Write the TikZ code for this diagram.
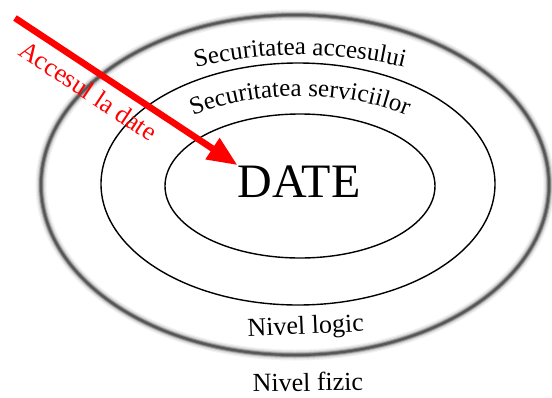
\documentclass[tikz,border=0pt]{standalone}
\usepackage{fontspec}
\setmainfont{Liberation Serif}
\usetikzlibrary{arrows.meta}
\usetikzlibrary{calc}
\usetikzlibrary{decorations.text}

\begin{document}
\begin{tikzpicture}[
        x=1pt, y=1pt,
        strat/.style={line width=1.4pt},
        eticheta/.style={font=\fontsize{26}{26}\selectfont, inner sep=0pt},
        acces/.style={red, line width=6.5pt, -{Triangle[length=30pt, width=24pt]}}
    ]
        % --- Cadrul desenului ---
        \fill[white] (0,0) rectangle (552,-397);
        \useasboundingbox (0,0) rectangle (552,-397);

        % --- Nivelul fizic (elipsa exterioara, margine estompata) ---
        \coordinate (C1) at (295,-185);
        \foreach \w/\t in {11/5, 8.5/12, 6/26, 4/48, 2.2/66} {
            \draw[black!\t, line width=\w pt] (C1) ellipse (254pt and 170pt);
        }

        % --- Nivelul logic si zona datelor ---
        \coordinate (C2) at (298,-184);
        \coordinate (C3) at (300,-186);
        \draw[strat] (C2) ellipse (197pt and 121pt);
        \draw[strat] (C3) ellipse (135pt and 72pt);

        % --- Textele curbate ---
        % Securitatea accesului (intre elipsa exterioara si cea mijlocie)
        \path[decorate, decoration={text along path, text align=center,
            text={|\fontsize{25}{25}\selectfont|Securitatea accesului}}]
            (C3) ++(160:245pt and 131pt)
            arc[start angle=160, end angle=20, x radius=245pt, y radius=131pt];
        % Securitatea serviciilor (intre elipsa mijlocie si cea interioara)
        \path[decorate, decoration={text along path, text align=center,
            text={|\fontsize{25}{25}\selectfont|Securitatea serviciilor}}]
            (C3) ++(160:172pt and 90pt)
            arc[start angle=160, end angle=20, x radius=172pt, y radius=90pt];

        % --- Nivelurile ---
        \node[eticheta, anchor=base, rotate=2.5] (logic) at (306,-334) {Nivel logic};
        \node[eticheta, anchor=base, rotate=1] (fizic) at (308,-391) {Nivel fizic};

        % --- Datele si accesul la ele ---
        \node[font=\fontsize{48}{48}\selectfont, anchor=base, inner sep=0pt] (date) at (299,-197) {DATE};
        \coordinate (start) at (15,-18);
        \draw[acces] (start) -- (date.north west)
            node[pos=0.38, sloped, below=8pt, eticheta, red] (acctext) {Accesul la date};

    \end{tikzpicture}
\end{document}
